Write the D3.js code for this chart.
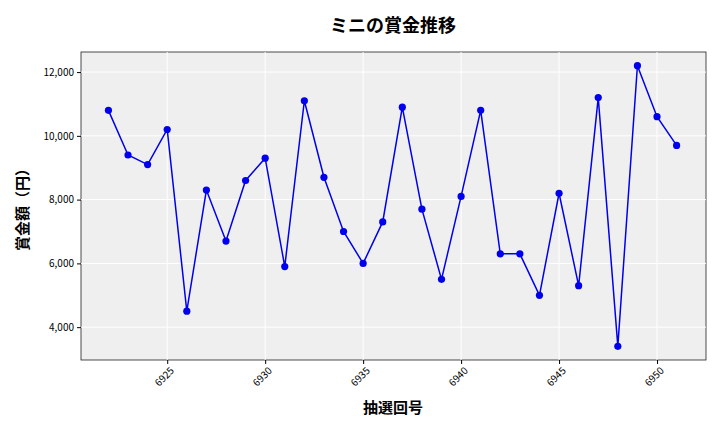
<!DOCTYPE html>
<html><head><meta charset="utf-8">
<script src="https://cdn.jsdelivr.net/npm/d3@7"></script>
<style>body{margin:0;background:#fff}text{font-family:"Noto Sans CJK JP","Noto Sans",sans-serif}</style>
</head><body><svg id="c" width="720" height="432"></svg>
<script>
const draws = d3.range(6922, 6952);
const prizes = [10800,9400,9100,10200,4500,8300,6700,8600,9300,5900,11100,8700,7000,6000,7300,10900,7700,5500,8100,10800,6300,6300,5000,8200,5300,11200,3400,12200,10600,9700];
const xTicks = [6925,6930,6935,6940,6945,6950];
const yTicks = [4000,6000,8000,10000,12000];

const svg = d3.select("#c");
const L=81,R=706,T=52,B=360;
const x = d3.scaleLinear().domain([6920.6,6952.5]).range([L,R]);
const y = d3.scaleLinear().domain([2970,12630]).range([B,T]);
svg.append("rect").attr("x",L).attr("y",T).attr("width",R-L).attr("height",B-T).attr("fill","#efefef").attr("stroke","#222").attr("stroke-width",0.8);
svg.append("g").selectAll("line").data(xTicks).join("line").attr("x1",d=>x(d)).attr("x2",d=>x(d)).attr("y1",T).attr("y2",B).attr("stroke","#fff");
svg.append("g").selectAll("line").data(yTicks).join("line").attr("y1",d=>y(d)).attr("y2",d=>y(d)).attr("x1",L).attr("x2",R).attr("stroke","#fff");
const xa = svg.append("g").attr("transform",`translate(0,${B})`).call(d3.axisBottom(x).tickValues(xTicks).tickFormat(d3.format("d")).tickSize(4));
xa.select(".domain").remove();
xa.selectAll("text").attr("transform","rotate(-45)").attr("text-anchor","end").attr("dx","-0.3em").attr("dy","0.6em").style("font-size","10px");
const ya = svg.append("g").attr("transform",`translate(${L},0)`).call(d3.axisLeft(y).tickValues(yTicks).tickFormat(d3.format(",")).tickSize(4));
ya.select(".domain").remove();
ya.selectAll("text").style("font-size","10px");
svg.append("path").datum(draws.map((d,i)=>[d,prizes[i]])).attr("fill","none").attr("stroke","#0000ee").attr("stroke-width",1.5)
  .attr("d",d3.line().x(d=>x(d[0])).y(d=>y(d[1])));
svg.append("g").selectAll("circle").data(draws).join("circle").attr("cx",d=>x(d)).attr("cy",(d,i)=>y(prizes[i])).attr("r",3.6).attr("fill","#0000ee");
svg.append("text").attr("x",393).attr("y",32).attr("text-anchor","middle").style("font-size","18px").style("font-weight","bold").text("ミニの賞金推移");
svg.append("text").attr("x",393).attr("y",413).attr("text-anchor","middle").style("font-size","15px").style("font-weight","bold").text("抽選回号");
svg.append("text").attr("transform","translate(28,206) rotate(-90)").attr("text-anchor","middle").style("font-size","15px").style("font-weight","bold").text("賞金額（円）");
</script></body></html>
